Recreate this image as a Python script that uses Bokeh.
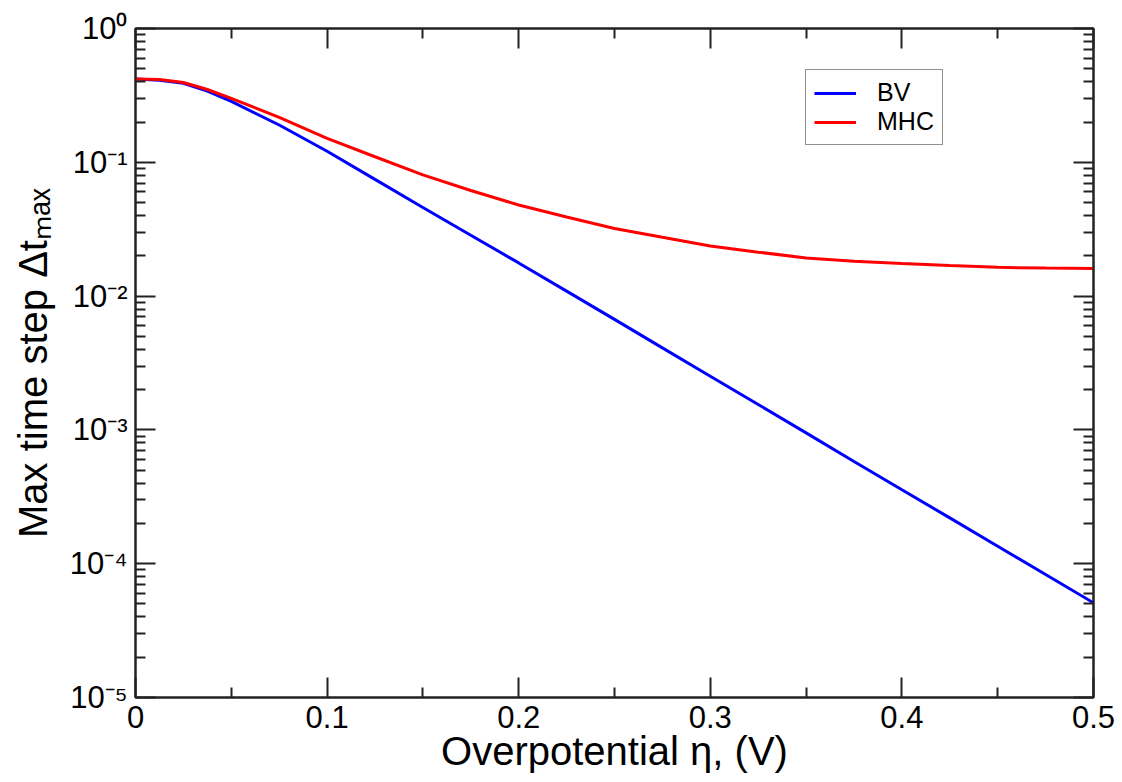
from bokeh.plotting import figure
from bokeh.models import (FixedTicker, LinearAxis, LogAxis,
                          CustomJSTickFormatter, Range1d)
from bokeh.embed import file_html
from bokeh.resources import INLINE

# ---------------- data ----------------
eta = [0.0, 0.0125, 0.025, 0.0375, 0.05, 0.075, 0.1, 0.125, 0.15, 0.175,
       0.2, 0.225, 0.25, 0.275, 0.3, 0.325, 0.35, 0.375, 0.4, 0.425,
       0.45, 0.475, 0.5]
bv = [0.42, 0.41, 0.39, 0.34, 0.285, 0.19, 0.121, 0.0745, 0.046, 0.0285,
      0.0177, 0.0109, 0.0067, 0.0041, 0.00252, 0.00155, 0.00095, 0.00058,
      0.000357, 0.00022, 0.000135, 0.000083, 0.000051]
mhc = [0.42, 0.415, 0.395, 0.35, 0.30, 0.217, 0.151, 0.11, 0.0805, 0.0615,
       0.048, 0.039, 0.032, 0.0275, 0.0237, 0.0213, 0.0193, 0.0182, 0.0175,
       0.0169, 0.0164, 0.0162, 0.0161]

x_ticks = [0.0, 0.1, 0.2, 0.3, 0.4, 0.5]
x_tick_labels = ["0", "0.1", "0.2", "0.3", "0.4", "0.5"]
x_minor = [0.05, 0.15, 0.25, 0.35, 0.45]
y_exponents = [0, -1, -2, -3, -4, -5]
y_ticks = [10.0 ** k for k in y_exponents]
y_minor = [m * 10.0 ** k for k in range(-5, 0) for m in range(2, 10)]

x_label = "Overpotential \u03b7, (V)"
y_label = "Max time step \u0394t\u2098\u2090\u2093"
series_names = ["BV", "MHC"]
series_colors = ["#0000ff", "#ff0000"]

FONT = "Liberation Sans"
AX = "#222222"

p = figure(width=1122, height=782,
           x_range=Range1d(0, 0.5), y_range=Range1d(1e-5, 1.0),
           y_axis_type="log", output_backend="svg", toolbar_location=None,
           min_border_left=135, min_border_right=29,
           min_border_top=28, min_border_bottom=85)
p.xgrid.visible = False
p.ygrid.visible = False
p.outline_line_color = AX
p.outline_line_width = 2
p.background_fill_color = "white"
p.border_fill_color = "white"

empty = CustomJSTickFormatter(code="return ''")
pow10 = CustomJSTickFormatter(code="""
const e = Math.round(Math.log10(tick));
const m = {'0':'\\u2070','1':'\\u00b9','2':'\\u00b2','3':'\\u00b3','4':'\\u2074',
           '5':'\\u2075','6':'\\u2076','7':'\\u2077','8':'\\u2078','9':'\\u2079',
           '-':'\\u207b'};
return '10' + String(e).split('').map(c => m[c]).join('');
""")

def style_axis(ax):
    ax.axis_line_color = AX
    ax.axis_line_width = 2
    ax.major_tick_line_color = AX
    ax.major_tick_line_width = 2
    ax.minor_tick_line_color = AX
    ax.minor_tick_line_width = 2
    ax.major_tick_in = 20
    ax.major_tick_out = 0
    ax.minor_tick_in = 10
    ax.minor_tick_out = 0

# bottom x-axis
xa = p.xaxis[0]
xa.ticker = FixedTicker(ticks=x_ticks, minor_ticks=x_minor)
xa.major_label_overrides = {t: l for t, l in zip(x_ticks, x_tick_labels)}
xa.major_label_text_font = FONT
xa.major_label_text_font_size = "31px"
xa.major_label_text_color = "black"
xa.major_label_standoff = 8
xa.axis_label = x_label
xa.axis_label_text_font = FONT
xa.axis_label_text_font_size = "40px"
xa.axis_label_text_font_style = "normal"
xa.axis_label_text_color = "black"
xa.axis_label_standoff = -2
style_axis(xa)

# left y-axis
ya = p.yaxis[0]
ya.ticker = FixedTicker(ticks=y_ticks, minor_ticks=y_minor)
ya.formatter = pow10
ya.major_label_text_font = FONT
ya.major_label_text_font_size = "31px"
ya.major_label_text_color = "black"
ya.major_label_standoff = 8
ya.axis_label = y_label
ya.axis_label_text_font = FONT
ya.axis_label_text_font_size = "40px"
ya.axis_label_text_font_style = "normal"
ya.axis_label_text_color = "black"
ya.axis_label_standoff = 12
style_axis(ya)

# mirrored top and right axes (ticks only)
top = LinearAxis(ticker=FixedTicker(ticks=x_ticks, minor_ticks=x_minor),
                 formatter=empty, major_label_standoff=0)
style_axis(top)
p.add_layout(top, "above")
right = LogAxis(ticker=FixedTicker(ticks=y_ticks, minor_ticks=y_minor),
                formatter=empty, major_label_standoff=0)
style_axis(right)
p.add_layout(right, "right")

# curves
p.line(eta, bv, line_color=series_colors[0], line_width=3,
       legend_label=series_names[0])
p.line(eta, mhc, line_color=series_colors[1], line_width=3,
       legend_label=series_names[1])

lg = p.legend[0]
lg.location = (670, 552)
lg.border_line_color = AX
lg.border_line_width = 1.5
lg.background_fill_color = "white"
lg.background_fill_alpha = 1
lg.label_text_font = FONT
lg.label_text_font_size = "25px"
lg.label_text_color = "black"
lg.glyph_width = 42
lg.glyph_height = 20
lg.label_height = 20
lg.label_standoff = 21
lg.padding = 8
lg.spacing = 0
lg.margin = 0

open("out.html", "w").write(file_html(p, INLINE))
